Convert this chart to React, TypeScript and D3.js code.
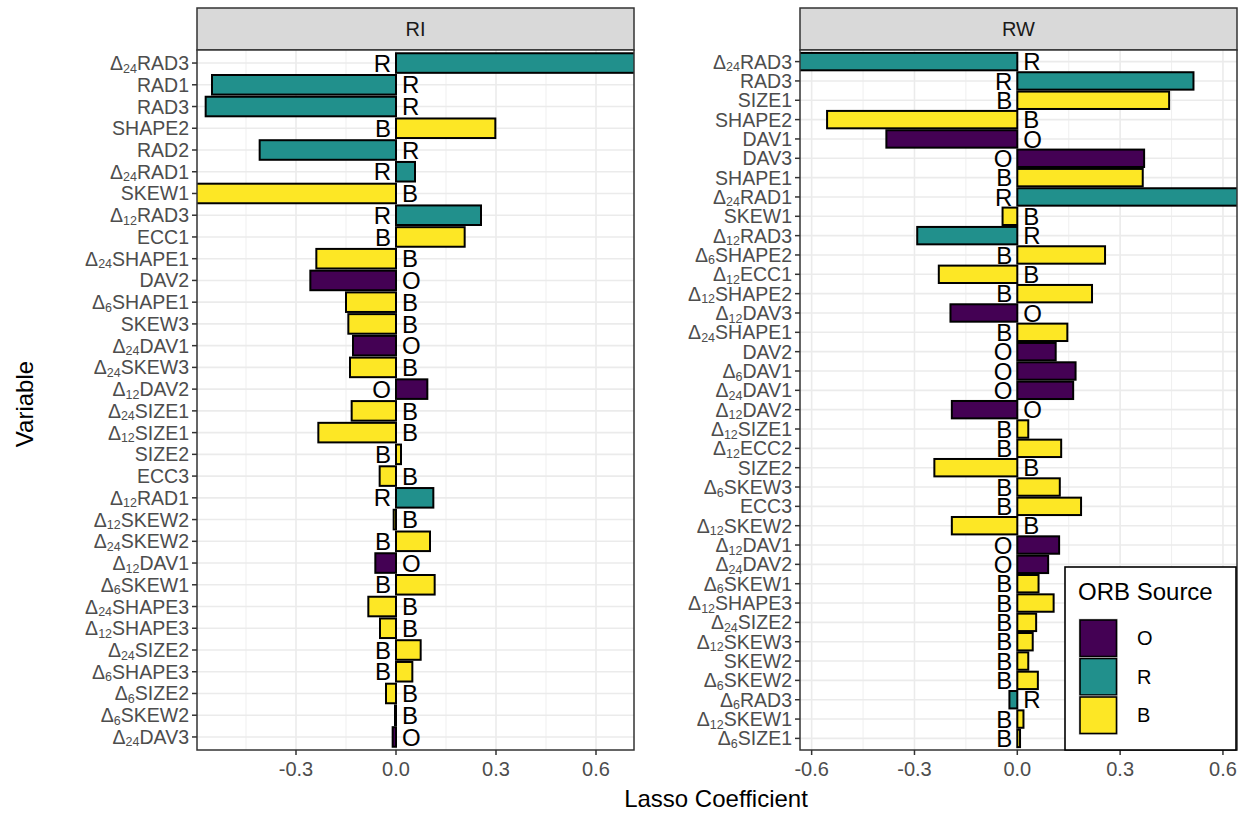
import React from "react";
import * as d3 from "d3";

// RI panel
const riVars = ["Δ24RAD3", "RAD1", "RAD3", "SHAPE2", "RAD2", "Δ24RAD1", "SKEW1", "Δ12RAD3", "ECC1", "Δ24SHAPE1", "DAV2", "Δ6SHAPE1", "SKEW3", "Δ24DAV1", "Δ24SKEW3", "Δ12DAV2", "Δ24SIZE1", "Δ12SIZE1", "SIZE2", "ECC3", "Δ12RAD1", "Δ12SKEW2", "Δ24SKEW2", "Δ12DAV1", "Δ6SKEW1", "Δ24SHAPE3", "Δ12SHAPE3", "Δ24SIZE2", "Δ6SHAPE3", "Δ6SIZE2", "Δ6SKEW2", "Δ24DAV3"];
const riValues = [0.75, -0.552, -0.571, 0.298, -0.409, 0.057, -0.62, 0.255, 0.206, -0.239, -0.257, -0.15, -0.143, -0.129, -0.138, 0.094, -0.133, -0.233, 0.015, -0.049, 0.112, -0.007, 0.102, -0.062, 0.116, -0.083, -0.048, 0.074, 0.049, -0.03, -0.003, -0.01];
const riSource = ["R", "R", "R", "B", "R", "R", "B", "R", "B", "B", "O", "B", "B", "O", "B", "O", "B", "B", "B", "B", "R", "B", "B", "O", "B", "B", "B", "B", "B", "B", "B", "O"];

// RW panel
const rwVars = ["Δ24RAD3", "RAD3", "SIZE1", "SHAPE2", "DAV1", "DAV3", "SHAPE1", "Δ24RAD1", "SKEW1", "Δ12RAD3", "Δ6SHAPE2", "Δ12ECC1", "Δ12SHAPE2", "Δ12DAV3", "Δ24SHAPE1", "DAV2", "Δ6DAV1", "Δ24DAV1", "Δ12DAV2", "Δ12SIZE1", "Δ12ECC2", "SIZE2", "Δ6SKEW3", "ECC3", "Δ12SKEW2", "Δ12DAV1", "Δ24DAV2", "Δ6SKEW1", "Δ12SHAPE3", "Δ24SIZE2", "Δ12SKEW3", "SKEW2", "Δ6SKEW2", "Δ6RAD3", "Δ12SKEW1", "Δ6SIZE1"];
const rwValues = [-0.68, 0.514, 0.443, -0.555, -0.382, 0.37, 0.366, 0.7, -0.043, -0.292, 0.256, -0.229, 0.218, -0.195, 0.146, 0.112, 0.17, 0.163, -0.191, 0.032, 0.128, -0.242, 0.124, 0.186, -0.191, 0.122, 0.09, 0.062, 0.106, 0.055, 0.045, 0.032, 0.06, -0.023, 0.018, 0.008];
const rwSource = ["R", "R", "B", "B", "O", "O", "B", "R", "B", "R", "B", "B", "B", "O", "B", "O", "O", "O", "O", "B", "B", "B", "B", "B", "B", "O", "O", "B", "B", "B", "B", "B", "B", "R", "B", "B"];

const sources = ["O", "R", "B"];
const sourceColors = ["#440154", "#21908C", "#FDE725"];
const riTicks = [-0.3, 0, 0.3, 0.6];
const rwTicks = [-0.6, -0.3, 0, 0.3, 0.6];

const FONT = "'Liberation Sans', Arial, Helvetica, sans-serif";
const color = d3.scaleOrdinal<string, string>().domain(sources).range(sourceColors);
const fmt = (v: number) => d3.format(".1f")(v).replace("−", "-");

const TOP = 50;
const BOTTOM = 750;

function VarLabel({ name, x, y }: { name: string; x: number; y: number }) {
  const m = name.match(/^Δ(\d+)(.*)$/);
  return (
    <text x={x} y={y} dy="0.36em" textAnchor="end" fontSize={19.5} fill="#4D4D4D" fontFamily={FONT}>
      {m ? (
        <>
          Δ
          <tspan fontSize={12.5} dy={2.5}>{m[1]}</tspan>
          <tspan dy={-2.5}>{m[2]}</tspan>
        </>
      ) : (
        name
      )}
    </text>
  );
}

function Panel(props: {
  id: string;
  title: string;
  left: number;
  width: number;
  domain: [number, number];
  ticks: number[];
  vars: string[];
  values: number[];
  src: string[];
}) {
  const { id, title, left, width, domain, ticks, vars, values, src } = props;
  const x = d3.scaleLinear().domain(domain).range([left, left + width]);
  const y = d3.scaleBand<string>().domain(vars).range([TOP, BOTTOM]).paddingInner(0.1).paddingOuter(0.15);
  const minor = d3.range(-0.75, 0.8, 0.3).map((v) => +v.toFixed(2)).filter((v) => v > domain[0] && v < domain[1]);
  const x0 = x(0);
  const cy = (v: string) => y(v)! + y.bandwidth() / 2;
  return (
    <g>
      <defs>
        <clipPath id={id}>
          <rect x={left} y={TOP} width={width} height={BOTTOM - TOP} />
        </clipPath>
      </defs>
      {/* strip */}
      <rect x={left} y={8} width={width} height={TOP - 8} fill="#D9D9D9" stroke="#333333" strokeWidth={1.5} />
      <text x={left + width / 2} y={29} dy="0.36em" textAnchor="middle" fontSize={20} fill="#1A1A1A" fontFamily={FONT}>
        {title}
      </text>
      <rect x={left} y={TOP} width={width} height={BOTTOM - TOP} fill="#fff" />
      {/* grid */}
      {minor.map((v) => (
        <line key={"mn" + v} x1={x(v)} x2={x(v)} y1={TOP} y2={BOTTOM} stroke="#EBEBEB" strokeWidth={0.8} />
      ))}
      {ticks.map((v) => (
        <line key={"mj" + v} x1={x(v)} x2={x(v)} y1={TOP} y2={BOTTOM} stroke="#EBEBEB" strokeWidth={1.6} />
      ))}
      {vars.map((v) => (
        <line key={"h" + v} x1={left} x2={left + width} y1={cy(v)} y2={cy(v)} stroke="#EBEBEB" strokeWidth={1.6} />
      ))}
      {/* bars */}
      <g clipPath={`url(#${id})`}>
        {vars.map((v, i) => (
          <rect
            key={"b" + v}
            x={Math.min(x0, x(values[i]))}
            y={y(v)}
            width={Math.abs(x(values[i]) - x0)}
            height={y.bandwidth()}
            fill={color(src[i])}
            stroke="#000"
            strokeWidth={2}
          />
        ))}
        {vars.map((v, i) => (
          <text
            key={"t" + v}
            x={values[i] > 0 ? x0 - 5 : x0 + 6}
            y={cy(v)}
            dy="0.36em"
            textAnchor={values[i] > 0 ? "end" : "start"}
            fontSize={24}
            fill="#000"
            fontFamily={FONT}
          >
            {src[i]}
          </text>
        ))}
      </g>
      <rect x={left} y={TOP} width={width} height={BOTTOM - TOP} fill="none" stroke="#333333" strokeWidth={1.5} />
      {/* y axis */}
      {vars.map((v) => (
        <g key={"yl" + v}>
          <line x1={left - 5} x2={left} y1={cy(v)} y2={cy(v)} stroke="#333333" strokeWidth={1.5} />
          <VarLabel name={v} x={left - 8} y={cy(v)} />
        </g>
      ))}
      {/* x axis */}
      {ticks.map((v) => (
        <g key={"xl" + v}>
          <line x1={x(v)} x2={x(v)} y1={BOTTOM} y2={BOTTOM + 5} stroke="#333333" strokeWidth={1.5} />
          <text x={x(v)} y={776} textAnchor="middle" fontSize={20} fill="#4D4D4D" fontFamily={FONT}>
            {fmt(v)}
          </text>
        </g>
      ))}
    </g>
  );
}

export default function App() {
  const legendTop = 619;
  const keySize = 38.5;
  return (
    <svg width={1244} height={814} style={{ position: "absolute", left: 0, top: 0, background: "#fff" }}>
      <rect width={1244} height={814} fill="#fff" />
      <Panel id="clipRI" title="RI" left={197} width={437} domain={[-0.597, 0.714]} ticks={riTicks} vars={riVars} values={riValues} src={riSource} />
      <Panel id="clipRW" title="RW" left={800} width={437} domain={[-0.634, 0.641]} ticks={rwTicks} vars={rwVars} values={rwValues} src={rwSource} />
      {/* axis titles */}
      <text x={716} y={807} textAnchor="middle" fontSize={24} fill="#000" fontFamily={FONT}>
        Lasso Coefficient
      </text>
      <text transform="translate(33,404) rotate(-90)" textAnchor="middle" fontSize={24} fill="#000" fontFamily={FONT}>
        Variable
      </text>
      {/* legend */}
      <rect x={1065} y={567} width={171} height={183} fill="#fff" stroke="#000" strokeWidth={1.6} />
      <text x={1078} y={600} fontSize={24} fill="#000" fontFamily={FONT}>
        ORB Source
      </text>
      {sources.map((s, i) => (
        <g key={"lg" + s}>
          <rect x={1079} y={legendTop + i * keySize} width={keySize} height={keySize} fill="#fff" stroke="#D9D9D9" strokeWidth={0.8} />
          <rect x={1080} y={legendTop + i * keySize + 1} width={keySize - 2} height={keySize - 2} fill={color(s)} stroke="#000" strokeWidth={1.6} />
          <text x={1137} y={legendTop + i * keySize + keySize / 2} dy="0.36em" fontSize={20} fill="#000" fontFamily={FONT}>
            {s}
          </text>
        </g>
      ))}
    </svg>
  );
}
